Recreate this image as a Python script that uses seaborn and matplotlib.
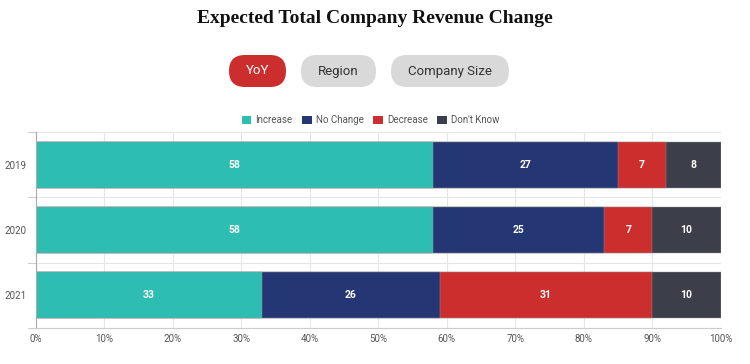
import numpy as np
import pandas as pd
import seaborn as sns
import matplotlib.pyplot as plt
from matplotlib.patches import FancyBboxPatch, Patch

# Data
years = ["2019", "2020", "2021"]
increase = [58, 58, 33]
no_change = [27, 25, 26]
decrease = [7, 7, 31]
dont_know = [8, 10, 10]

series = ["Increase", "No Change", "Decrease", "Don't Know"]
colors = ["#2ebdb3", "#243673", "#cc2e2e", "#3c3f4a"]

df = pd.DataFrame({"year": years, "Increase": increase, "No Change": no_change,
                   "Decrease": decrease, "Don't Know": dont_know})
cum = df[series].cumsum(axis=1)

sns.set_style("white")
plt.rcParams['font.family'] = ['Roboto', 'DejaVu Sans']

W, H = 750, 364
fig = plt.figure(figsize=(7.5, 3.64), dpi=100)

# overlay axes in pixel units for the buttons
bg = fig.add_axes([0, 0, 1, 1])
bg.set_xlim(0, W)
bg.set_ylim(H, 0)
bg.axis("off")

ax = fig.add_axes([0.048, 0.099, 0.913, 0.538])

# stacked bars: draw cumulative totals from the top series down
for s, c in reversed(list(zip(series, colors))):
    sns.barplot(x=cum[s], y=df["year"], color=c, orient="h", width=0.71,
                saturation=1, ax=ax, edgecolor="#999999", linewidth=0.3, zorder=2)

for s in series:
    for i, (v, end) in enumerate(zip(df[s], cum[s])):
        ax.text(end - v / 2, i, str(v), ha="center", va="center",
                color="white", fontsize=7.5, fontweight="bold", zorder=3)

ax.set_xlim(0, 100)
ax.set_ylim(2.5, -0.5)
ax.set_xticks(np.arange(0, 101, 10))
ax.set_xticklabels([f"{t}%" for t in range(0, 101, 10)], fontsize=7, color="#555555")
ax.set_yticks([0, 1, 2])
ax.set_yticklabels(years, fontsize=7, color="#555555")
ax.set_xlabel("")
ax.set_ylabel("")
ax.tick_params(axis="y", length=0, pad=7)
ax.tick_params(axis="x", length=0, pad=4)

ax.grid(axis="x", color="#e6e6e6", linewidth=0.8, zorder=0)
for yb in [-0.5, 0.5, 1.5, 2.5]:
    ax.axhline(yb, color="#e6e6e6", linewidth=0.8, zorder=0)
    ax.plot([-1.2, 0], [yb, yb], color="#cccccc", linewidth=0.8, clip_on=False)
ax.set_axisbelow(True)
for side in ["top", "right"]:
    ax.spines[side].set_visible(False)
ax.spines["left"].set_color("#aaaaaa")
ax.spines["bottom"].set_color("#cccccc")

# legend
handles = [Patch(facecolor=c, edgecolor="none") for c in colors]
fig.legend(handles, series, loc="center", bbox_to_anchor=(0.494, 0.67), ncol=4,
           frameon=False, fontsize=7, handlelength=1.0, handleheight=0.9,
           handletextpad=0.4, columnspacing=1.0, labelcolor="#555555")

# title
fig.text(0.5, 0.948, "Expected Total Company Revenue Change", ha="center", va="center",
         fontsize=14, fontweight="bold", family=["Liberation Serif", "DejaVu Serif"],
         color="#111111")

# buttons
buttons = [("YoY", 229, 286, "#cc2e2e", "white"),
           ("Region", 301, 376, "#d9d9d9", "#333333"),
           ("Company Size", 391, 509, "#d9d9d9", "#333333")]
for label, x0, x1, fc, tc in buttons:
    y0, y1 = 55, 87
    r = (y1 - y0) / 2
    box = FancyBboxPatch((x0, y0), x1 - x0, y1 - y0,
                         boxstyle=f"round,pad=0,rounding_size={r}",
                         facecolor=fc, edgecolor="none")
    bg.add_patch(box)
    bg.text((x0 + x1) / 2, (y0 + y1) / 2, label, ha="center", va="center",
            fontsize=9.5, color=tc)

fig.savefig("out.png", dpi=100)
